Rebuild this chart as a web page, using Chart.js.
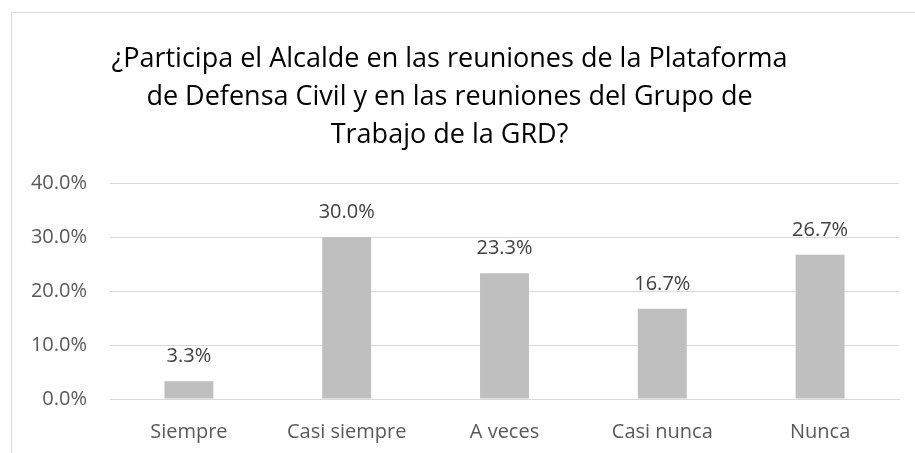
<!DOCTYPE html>
<html lang="es">
<head>
  <meta charset="UTF-8">
  <title>Participación del Alcalde</title>
  <script src="https://cdn.jsdelivr.net/npm/chart.js"></script>
  <style>
    html, body { margin: 0; padding: 0; background: #fff; overflow: hidden; }
    #frame { position: absolute; left: 11px; top: 12px; width: 920px; height: 460px; border: 1px solid #d9d9d9; }
    #chart { position: absolute; left: 0; top: 0; }
  </style>
</head>
<body>
  <div id="frame"></div>
  <canvas id="chart" width="915" height="453"></canvas>

  <script>
    // chart data
    const titleLines = [
      '¿Participa el Alcalde en las reuniones de la Plataforma',
      'de Defensa Civil y en las reuniones del Grupo de',
      'Trabajo de la GRD?'
    ];
    const categories = ['Siempre', 'Casi siempre', 'A veces', 'Casi nunca', 'Nunca'];
    const percents = [3.3, 30.0, 23.3, 16.7, 26.7];
    const yTicks = [0, 10, 20, 30, 40];

    const FONT = '"Open Sans", sans-serif';

    // labels above each bar
    const barLabels = {
      id: 'barLabels',
      afterDatasetsDraw(chart) {
        const ctx = chart.ctx;
        const meta = chart.getDatasetMeta(0);
        ctx.save();
        ctx.font = '20px ' + FONT;
        ctx.fillStyle = '#404040';
        ctx.textAlign = 'center';
        ctx.textBaseline = 'middle';
        meta.data.forEach((bar, i) => {
          ctx.fillText(percents[i].toFixed(1) + '%', bar.x, bar.y - 25);
        });
        ctx.restore();
      }
    };

    new Chart(document.getElementById('chart'), {
      type: 'bar',
      data: {
        labels: categories,
        datasets: [{
          data: percents,
          backgroundColor: '#bfbfbf',
          barPercentage: 0.31,
          categoryPercentage: 1
        }]
      },
      options: {
        responsive: false,
        animation: false,
        devicePixelRatio: 1,
        layout: { padding: { left: 0, right: 16, top: 0, bottom: 9 } },
        plugins: {
          legend: { display: false },
          tooltip: { enabled: false },
          title: {
            display: true,
            text: titleLines,
            color: '#000000',
            font: { family: FONT, size: 27, weight: 'normal', lineHeight: '38px' },
            padding: { top: 40, bottom: 29 }
          }
        },
        scales: {
          x: {
            grid: { display: false, drawTicks: false },
            border: { color: '#d9d9d9', width: 1 },
            afterFit: s => { s.height = 45; },
            ticks: { color: '#595959', font: { family: FONT, size: 20 }, padding: 21, maxRotation: 0 }
          },
          y: {
            min: 0,
            max: 40,
            afterBuildTicks: s => { s.ticks = yTicks.map(v => ({ value: v })); },
            afterFit: s => { s.width = 110; },
            grid: { color: '#d9d9d9', lineWidth: 1, drawTicks: false },
            border: { display: false },
            ticks: {
              color: '#595959',
              font: { family: FONT, size: 20 },
              padding: 23,
              callback: v => v.toFixed(1) + '%'
            }
          }
        }
      },
      plugins: [barLabels]
    });
  </script>
</body>
</html>
